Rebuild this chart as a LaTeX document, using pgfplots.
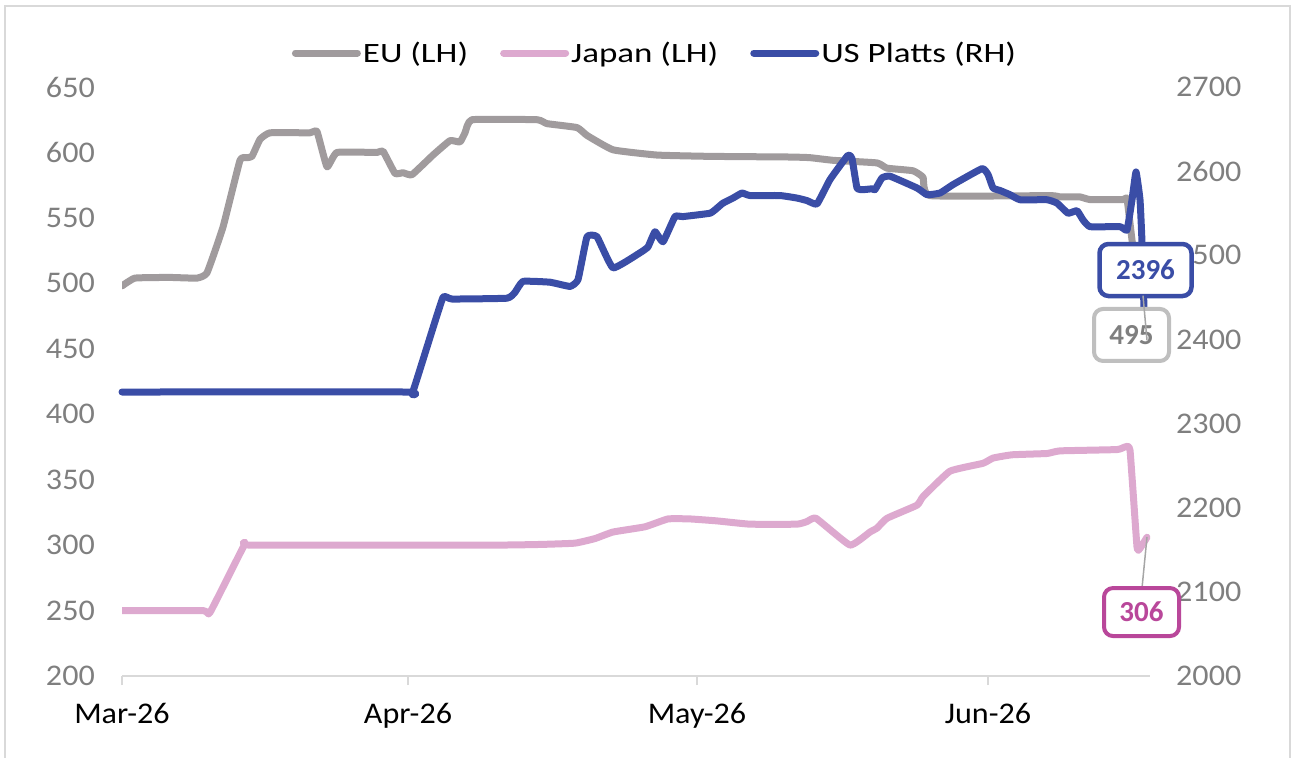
\documentclass[border=0pt]{standalone}
\usepackage{fontspec}
\setmainfont{Carlito}
\newfontfamily\legfont{Carlito}[FakeStretch=1.25]
\newfontfamily\tickfont{Carlito}[FakeStretch=1.07]
\usepackage{pgfplots}
\pgfplotsset{compat=1.18}
\usepackage{pgfplotstable}
\definecolor{eugray}{HTML}{A09B9D}
\definecolor{jppink}{HTML}{DDA9CF}
\definecolor{usblue}{HTML}{3A4DA6}
\definecolor{ticklab}{HTML}{7F7F7F}
\definecolor{axline}{HTML}{D9D9D9}
\definecolor{magenta306}{HTML}{B9479A}
\definecolor{box495}{HTML}{BFBFBF}
\definecolor{leader}{HTML}{A6A6A6}

\pgfplotstableread{
x v
0 498
13 504
48 504.5
75 504
85 508
101 543
118 594
125 596
130 597
138 610
148 615
188 615
195 616
205 589
215 600
255 600
261 601
273 584
281 584.5
290 583
311 598
328 609
338 608
343 615
350 625
415 625
425 622
455 619
465 613
491 602
535 598
588 597
668 596.5
688 596
711 594
755 592
765 588
791 586
801 581
808 567
928 567
938 566
958 566
968 564
1001 564
1005 564.5
1010 533
1017 495
}\eudata

\pgfplotstableread{
x v
0 250
81 250
88 248.5
123 301
129 300
371 300
418 300.5
453 301.5
473 305
491 310
523 314
546 320
568 320
595 318.5
628 316
675 316
685 318
694 320.5
728 300
748 310
755 313
765 320.5
795 330.5
801 337
828 356.5
861 362.5
871 366.5
890 369
925 370
938 372
995 373
1003 375
1008 372.5
1015 298.5
1018 297.5
1025 306
}\jpdata

\pgfplotstableread{
x v
0 2337.5
285 2337.5
290 2335
305 2391
321 2450
330 2448
385 2449
393 2456
401 2469
428 2468
448 2463
456 2471
465 2522
475 2522
491 2485
518 2503
526 2510
533 2528
541 2516
553 2546
561 2546
588 2550
595 2556
601 2562
611 2568
620 2574
628 2571
658 2571
675 2568
685 2565
695 2561
708 2590
726 2619
730 2615
735 2580
741 2578
750 2579
753 2578
760 2592
768 2594
795 2580
805 2572
818 2574
831 2584
860 2603
866 2596
871 2580
878 2577
888 2572
898 2566
925 2566
935 2562
946 2550
955 2553
961 2542
968 2534
998 2534
1005 2530
1010 2566
1014 2599
1018 2566
1020 2515
1023 2396
}\usdata

\begin{document}
\begin{tikzpicture}
\path[use as bounding box] (0,0) rectangle (1296bp,758bp);
\draw[axline, line width=2bp] (5bp,0) -- (5bp,752bp) -- (1290bp,752bp) -- (1290bp,0);

\pgfplotsset{
  commonax/.style={
    scale only axis,
    width=1028bp, height=589bp,
    at={(122bp,82bp)}, anchor=south west,
    xmin=0, xmax=1028,
    /pgf/number format/assume math mode=true,
    /pgf/number format/1000 sep={},
  },
  serie/.style={line width=7bp, line join=round, line cap=round, smooth, tension=0.22},
}

\begin{axis}[
  commonax,
  ymin=200, ymax=650,
  ytick={200,250,...,650},
  xtick={0,286,575,866},
  xticklabels={Mar-26,Apr-26,May-26,Jun-26},
  axis x line*=bottom,
  axis y line*=left,
  x axis line style={axline, line width=2.5bp, -},
  y axis line style={draw=none},
  tick align=outside,
  major tick length=9bp,
  xtick style={axline, line width=2.5bp},
  ytick style={draw=none},
  xticklabel style={font=\tickfont\fontsize{30bp}{36bp}\selectfont, text=black, anchor=north, inner sep=0pt, yshift=-18bp},
  yticklabel style={font=\tickfont\fontsize{30bp}{36bp}\selectfont, text=ticklab, anchor=east, inner sep=0pt, xshift=-18bp},
  legend style={at={(0.5185,1.0577)}, anchor=center, draw=none, fill=none,
    legend columns=3,
    font=\legfont\fontsize{28bp}{32bp}\selectfont,
    /tikz/every even column/.append style={column sep=30bp},
    nodes={inner sep=2bp}},
  legend image code/.code={\draw[#1, line width=7bp, line cap=round] (0bp,0bp) -- (62bp,0bp);},
]
\addplot[serie, eugray] table[x=x, y=v] {\eudata};
\addlegendentry{EU (LH)}
\addplot[serie, jppink] table[x=x, y=v] {\jpdata};
\addlegendentry{Japan (LH)}
\addlegendimage{usblue}
\addlegendentry{US Platts (RH)}
\end{axis}

\begin{axis}[
  commonax,
  ymin=2000, ymax=2700,
  ytick={2000,2100,...,2700},
  hide x axis,
  axis y line*=right,
  y axis line style={draw=none},
  ytick style={draw=none},
  yticklabel style={font=\tickfont\fontsize{30bp}{36bp}\selectfont, text=ticklab, anchor=west, inner sep=0pt, xshift=26bp},
  clip=false,
]
\addplot[serie, usblue] table[x=x, y=v] {\usdata};
\node[draw=usblue, line width=4.5bp, rounded corners=9bp, fill=white,
  minimum width=92bp, minimum height=52bp, inner sep=0pt,
  text=usblue, font=\bfseries\fontsize{29bp}{34bp}\selectfont]
  at (axis cs:1023.5,2482.5) {2396};
\node[draw=box495, line width=4bp, rounded corners=9bp, fill=white,
  minimum width=75bp, minimum height=52bp, inner sep=0pt,
  text=ticklab, font=\bfseries\fontsize{29bp}{34bp}\selectfont]
  at (axis cs:1009.5,2405.3) {495};
\draw[leader, line width=1.5bp] (axis cs:1025,2399) -- (axis cs:1021,2452);
\draw[leader, line width=1.5bp] (axis cs:1020,2104.6) -- (axis cs:1025,2165.2);
\node[draw=magenta306, line width=4bp, rounded corners=9bp, fill=white,
  minimum width=75bp, minimum height=48bp, inner sep=0pt,
  text=magenta306, font=\bfseries\fontsize{29bp}{34bp}\selectfont]
  at (axis cs:1019.5,2076) {306};
\end{axis}
\end{tikzpicture}
\end{document}
